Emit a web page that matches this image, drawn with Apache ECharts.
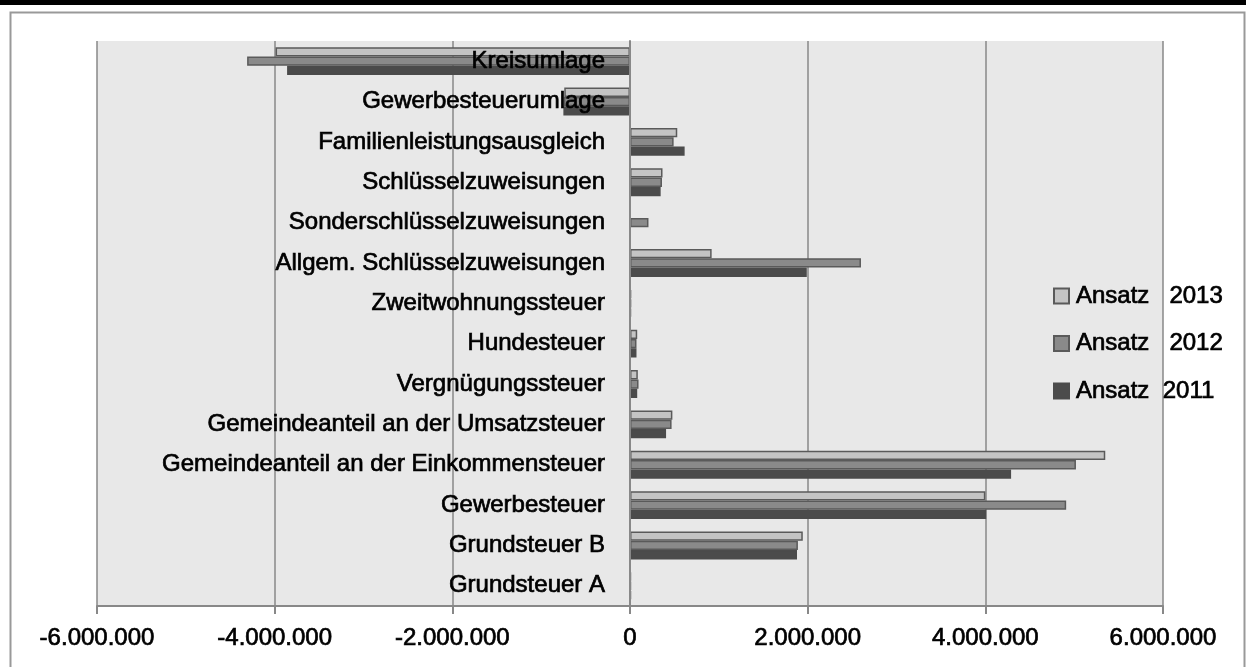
<!DOCTYPE html>
<html>
<head>
<meta charset="utf-8">
<style>
  html, body { margin: 0; padding: 0; background: #fff; }
  #chart { width: 1246px; height: 667px; }
</style>
<script src="https://cdn.jsdelivr.net/npm/echarts@6/dist/echarts.min.js"></script>
</head>
<body>
<div id="chart"></div>
<script>
// categories top to bottom
const categories = [
  'Kreisumlage',
  'Gewerbesteuerumlage',
  'Familienleistungsausgleich',
  'Schlüsselzuweisungen',
  'Sonderschlüsselzuweisungen',
  'Allgem. Schlüsselzuweisungen',
  'Zweitwohnungssteuer',
  'Hundesteuer',
  'Vergnügungssteuer',
  'Gemeindeanteil an der Umsatzsteuer',
  'Gemeindeanteil an der Einkommensteuer',
  'Gewerbesteuer',
  'Grundsteuer B',
  'Grundsteuer A'
]
const ansatz2013 = [-3990000, -740000, 532000, 366000, null, 919000, 12000, 81000, 88000, 477000, 5350000, 4000000, 1945000, 10000]
const ansatz2012 = [-4310000, -745000, 491000, 360000, 208000, 2600000, 12000, 73000, 96000, 468000, 5020000, 4910000, 1890000, 10000]
const ansatz2011 = [-3860000, -750000, 615000, 345000, null, 1990000, 10000, 73000, 81000, 406000, 4290000, 4010000, 1880000, 10000]
const seriesNames = ['Ansatz   2013', 'Ansatz   2012', 'Ansatz  2011']
const xTicks = { min: -6000000, max: 6000000, interval: 2000000 }

const font = "'Liberation Sans', Arial, sans-serif"
// a thin stroke makes the text a bit heavier, like the original
const heavy = { textBorderColor: '#000', textBorderWidth: 0.7 }

function fmt(v) {
  const s = String(Math.abs(v)).replace(/\B(?=(\d{3})+(?!\d))/g, '.')
  return (v < 0 ? '-' : '') + s
}

const chart = echarts.init(document.getElementById('chart'))

// grid geometry, the y axis is moved in to sit on x = 0
const gridLeft = 97, gridRight = 83
const plotWidth = 1246 - gridLeft - gridRight
const zeroShift = -plotWidth * (0 - xTicks.min) / (xTicks.max - xTicks.min)

function bar(name, data, color, border) {
  return {
    name: name,
    type: 'bar',
    data: data,
    barGap: '0%',
    barCategoryGap: '31%',
    itemStyle: { color: color, borderColor: border, borderWidth: 1.5 }
  }
}

const option = {
  animation: false,
  backgroundColor: '#fff',
  textStyle: { fontFamily: font },
  graphic: [
    { type: 'rect', shape: { x: 0, y: 0, width: 1246, height: 5 }, style: { fill: '#000' } },
    { type: 'rect', shape: { x: 10.5, y: 12.5, width: 1234, height: 700 }, style: { fill: 'none', stroke: '#999', lineWidth: 2 } }
  ],
  grid: {
    left: gridLeft, right: gridRight, top: 41, bottom: 61,
    containLabel: false, outerBoundsMode: 'none',
    show: true, backgroundColor: '#e8e8e8', borderWidth: 0
  },
  legend: {
    orient: 'vertical',
    left: 1053, top: 281,
    padding: 0,
    itemWidth: 15, itemHeight: 15,
    itemGap: 17.5,
    icon: 'rect',
    data: seriesNames,
    textStyle: Object.assign({ fontFamily: font, fontSize: 24, color: '#000', lineHeight: 30, padding: [0, 0, 0, 2] }, heavy)
  },
  xAxis: {
    type: 'value',
    min: xTicks.min, max: xTicks.max, interval: xTicks.interval,
    axisLine: { show: true, lineStyle: { color: '#888', width: 2 } },
    axisTick: { show: true, length: 8, lineStyle: { color: '#888', width: 2 } },
    splitLine: { show: true, lineStyle: { color: '#888', width: 1.5 } },
    axisLabel: Object.assign({ formatter: fmt, fontSize: 24, color: '#000', margin: 20, fontFamily: font }, heavy)
  },
  yAxis: [
    {
      type: 'category', data: categories, inverse: true, z: 10,
      offset: zeroShift,
      axisLine: { onZero: false, lineStyle: { color: '#888', width: 2 } },
      axisTick: { length: 9, lineStyle: { color: '#888', width: 2 } },
      axisLabel: Object.assign({ fontSize: 24, color: '#000', margin: 25, fontFamily: font }, heavy)
    },
    {
      type: 'category', data: categories, inverse: true, z: 10, position: 'left',
      offset: zeroShift,
      axisLine: { show: false, onZero: false },
      axisTick: { inside: true, length: 8, lineStyle: { color: '#888', width: 2 } },
      axisLabel: { show: false }
    }
  ],
  series: [
    bar(seriesNames[0], ansatz2013, '#c4c4c4', '#5a5a5a'),
    bar(seriesNames[1], ansatz2012, '#8a8a8a', '#5a5a5a'),
    bar(seriesNames[2], ansatz2011, '#4b4b4b', '#4b4b4b')
  ]
}

chart.setOption(option)
</script>
</body>
</html>
